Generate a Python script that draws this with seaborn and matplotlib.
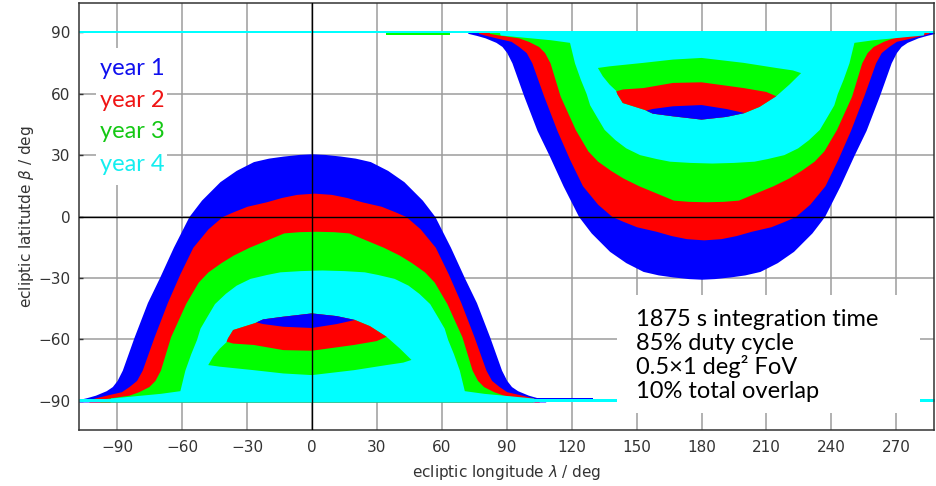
import numpy as np
import matplotlib.pyplot as plt
import seaborn as sns
from matplotlib.patches import Rectangle

# legend entries and colours (year of first coverage)
years = ['year 1', 'year 2', 'year 3', 'year 4']
fill_colors = ['#0000ff', '#ff0000', '#00ff00', '#00ffff']
text_colors = ['#1010ee', '#f01414', '#14c814', '#14eef0']

notes = ['1875 s integration time', '85% duty cycle',
         '0.5\u00d71 deg\u00b2 FoV', '10% total overlap']

lon_ticks = [-90, -60, -30, 0, 30, 60, 90, 120, 150, 180, 210, 240, 270]
lat_ticks = [-90, -60, -30, 0, 30, 60, 90]

# southern cap (around lon 0): outer edge of each year's band,
# latitude vs. half-width in longitude, plus the band's centre longitude
blue_lat = [-90.5, -89.4, -88.4, -87.2, -85, -83, -80, -75, -59, -42, -30, -15, 0, 8, 17,
            22.5, 26.8, 28.5, 29.5, 30.3, 30.6]
blue_hw = [108, 108, 104, 100, 95, 92.2, 90, 87.6, 82.2, 76, 70.5, 64, 56.8, 51, 42.5,
           35, 27, 20, 13.2, 6, 0]

red_lat = [-90.5, -89.4, -88.5, -87.2, -85.5, -83, -80, -75, -59, -42, -28, -15, -6, 0,
           2.3, 5, 7.2, 9.3, 10.8, 11.4]
red_hw = [104, 104, 101, 96, 89, 85.5, 82, 79.4, 74, 67.8, 62, 56, 49, 42.4,
          37.4, 31, 22, 15, 8, 0]

green_lat = [-90.5, -89.4, -88.8, -87.2, -85.5, -83, -80, -75, -58.7, -42.4, -32, -27,
             -22.5, -18.8, -15, -11.5, -8, -7.4, -7.2]
green_hw = [100, 100, 97, 86.5, 82, 77.3, 74.5, 72, 67.3, 60.3, 54.5, 50,
            44, 38.3, 31, 23, 15, 8, 0]

cyan_lat = [-90.5, -89.4, -88.6, -86.3, -85, -75, -67, -60, -54.5, -48.9, -42.5, -37.5,
            -33.5, -30.2, -28.3, -27, -26.4, -26.1]
cyan_hw = [98, 98, 97.7, 74.7, 65.7, 63.4, 60.7, 58, 56.4, 53.3, 49.7, 44.7,
           39.7, 33.3, 25.7, 19.5, 10, 0]

dome_lats = [blue_lat, red_lat, green_lat, cyan_lat]
dome_hws = [blue_hw, red_hw, green_hw, cyan_hw]
dome_centres = [0.0, 1.0, 2.0, 4.7]

# inner lenses of the southern cap (outline lon / lat)
lens1_lon = [-25.6, -22.5, -13.2, 0, 11.4, 19.9, 11.4, 0, -13.2, -22.5]
lens1_lat = [-51.7, -50.2, -48.9, -47.3, -48.6, -50.5, -52.5, -54.4, -53.8, -52.5]

lens2_lon = [-39.4, -38.8, -36.4, -26.2, -22.5, -13.2, 0, 11.4, 19.9, 26.8, 34.5,
             29.9, 19.4, 0, -13.2, -26.8, -36.4]
lens2_lat = [-61.1, -59.5, -55.4, -52.0, -50.2, -48.9, -47.3, -48.6, -50.5, -53.5, -58.7,
             -60.8, -62.7, -65.5, -65.2, -62.7, -62.0]

lens3_lon = [-47.9, -45.6, -42.5, -39.4, -38.8, -36.4, -26.2, -22.5, -13.2, 0, 11.4, 19.9,
             26.8, 34.5, 40.6, 46.0, 42.2, 34.5, 19.4, 0, -13.2, -26.8, -42.5]
lens3_lat = [-72.5, -68.4, -64.4, -61.3, -59.5, -55.4, -52.0, -50.2, -48.9, -47.3, -48.6, -50.5,
             -53.5, -58.7, -64.4, -70.0, -71.3, -72.5, -75.0, -77.4, -76.6, -75.0, -73.3]

# drawn year 3, 2, 1 on top of each other
lenses = [(lens3_lon, lens3_lat, 2), (lens2_lon, lens2_lat, 1), (lens1_lon, lens1_lat, 0)]

# thin strips along the poles: (lat_lo, lat_hi, lon_lo, lon_hi, colour index)
strips = [
    (-90.5, -89.3, -110, 290, 3),
    (-89.3, -88.4, 103, 130, 0),
    (89.4, 90.6, -110, 290, 3),
    (88.5, 89.4, 34, 64, 2),
]

sns.set_theme(style='white')
plt.rcParams['font.family'] = ['DejaVu Sans']

fig = plt.figure(figsize=(9.36, 4.86), dpi=100)
ax = fig.add_axes([0.0844, 0.1152, 0.9135, 0.8786])

# south cap at lon 0, north cap is the same pattern at lon 180 with lat flipped
for lon0, sign in [(0, 1), (180, -1)]:
    for lat, hw, c, col in zip(dome_lats, dome_hws, dome_centres, fill_colors):
        lat = np.array(lat) * sign
        hw = np.array(hw)
        ax.fill_betweenx(lat, lon0 + c - hw, lon0 + c + hw, color=col, lw=0, zorder=2)
    for lons, lats, k in lenses:
        ax.fill(np.array(lons) + lon0, np.array(lats) * sign, color=fill_colors[k], lw=0, zorder=2)

for lat_lo, lat_hi, lon_lo, lon_hi, k in strips:
    ax.fill_between([lon_lo, lon_hi], lat_lo, lat_hi, color=fill_colors[k], lw=0, zorder=2)

ax.axhline(0, color='black', lw=1.0, zorder=4)
ax.axvline(0, color='black', lw=1.0, zorder=4)

ax.set_xlim(-107.6, 287.4)
ax.set_ylim(-104.2, 104.2)
ax.set_xticks(lon_ticks)
ax.set_yticks(lat_ticks)
ax.grid(True, color='#9c9c9c', lw=1.1)
ax.set_axisbelow(True)

for s in ax.spines.values():
    s.set_color('#333333')
    s.set_linewidth(1.1)
ax.tick_params(axis='x', length=0, pad=7, labelsize=11, labelcolor='#333333')
ax.tick_params(axis='y', direction='in', length=3, width=1, color='#333333',
               pad=6, labelsize=11, labelcolor='#333333', left=True)

ax.set_xlabel('ecliptic longitude $\\lambda$ / deg', fontsize=11, color='#333333', labelpad=6)
ax.set_ylabel('ecliptic latitutde $\\beta$ / deg', fontsize=11, color='#333333', labelpad=2)

# white boxes behind legend and notes
ax.add_patch(Rectangle((0.0199, 0.5738), 0.083, 0.3208, transform=ax.transAxes,
                       facecolor='white', edgecolor='none', zorder=5))
ax.add_patch(Rectangle((0.6292, 0.0398), 0.3544, 0.2764, transform=ax.transAxes,
                       facecolor='white', edgecolor='none', zorder=5))

for y, label, col in zip([0.8314, 0.7571, 0.6831, 0.6077], years, text_colors):
    ax.text(0.0246, y, label, color=col, fontsize=17, family='Lato',
            va='baseline', ha='left', transform=ax.transAxes, zorder=6)

for y, line in zip([0.2436, 0.1885, 0.1311, 0.0756], notes):
    ax.text(0.6515, y, line, color='black', fontsize=17, family='Lato',
            va='baseline', ha='left', transform=ax.transAxes, zorder=6)

fig.savefig('out.png', dpi=100)
